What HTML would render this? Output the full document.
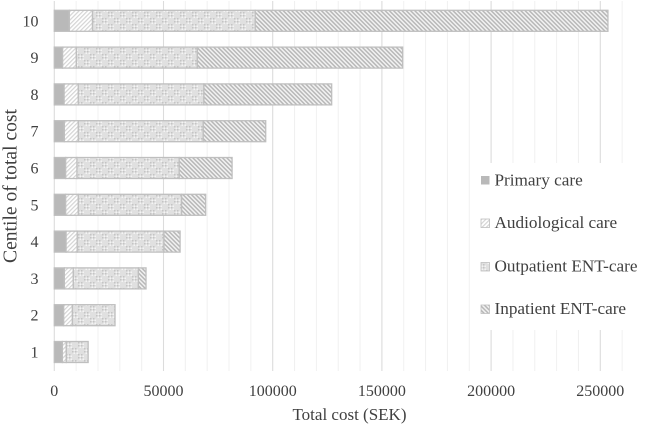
<!DOCTYPE html>
<html>
<head>
<meta charset="utf-8">
<title>Total cost by centile</title>
<style>
html,body{margin:0;padding:0;background:#fff;width:645px;height:424px;overflow:hidden}
svg{display:block}
text{font-family:"Liberation Serif",serif;fill:#404040;font-size:16px}
</style>
</head>
<body>
<svg id="chart" width="645" height="424" viewBox="0 0 645 424" xmlns="http://www.w3.org/2000/svg">
<defs>
<pattern id="p-aud" width="3" height="3" patternUnits="userSpaceOnUse" patternTransform="rotate(45)">
<rect width="3" height="3" fill="#ffffff"/><rect width="1.2" height="3" fill="#d4d4d4"/>
</pattern>
<pattern id="p-out" width="12" height="12" patternUnits="userSpaceOnUse">
<rect width="12" height="12" fill="#e0e0e0"/>
<rect x="0" y="0" width="1.5" height="1.5" fill="#c4c4c4"/><rect x="3" y="0" width="1.5" height="1.5" fill="#c4c4c4"/>
<rect x="1.5" y="1.5" width="1.5" height="1.5" fill="#f4f4f4"/><rect x="4.5" y="1.5" width="1.5" height="1.5" fill="#f4f4f4"/>
<rect x="0" y="3" width="1.5" height="1.5" fill="#c4c4c4"/><rect x="3" y="3" width="1.5" height="1.5" fill="#c4c4c4"/>
<rect x="1.5" y="4.5" width="1.5" height="1.5" fill="#f4f4f4"/><rect x="4.5" y="4.5" width="1.5" height="1.5" fill="#f4f4f4"/>
<rect x="6" y="6" width="1.5" height="1.5" fill="#c4c4c4"/><rect x="9" y="6" width="1.5" height="1.5" fill="#c4c4c4"/>
<rect x="7.5" y="7.5" width="1.5" height="1.5" fill="#f4f4f4"/><rect x="10.5" y="7.5" width="1.5" height="1.5" fill="#f4f4f4"/>
<rect x="6" y="9" width="1.5" height="1.5" fill="#c4c4c4"/><rect x="9" y="9" width="1.5" height="1.5" fill="#c4c4c4"/>
<rect x="7.5" y="10.5" width="1.5" height="1.5" fill="#f4f4f4"/><rect x="10.5" y="10.5" width="1.5" height="1.5" fill="#f4f4f4"/>
</pattern>
<pattern id="p-inp" width="3" height="3" patternUnits="userSpaceOnUse" patternTransform="rotate(-45)">
<rect width="3" height="3" fill="#f2f2f2"/><rect width="1.5" height="3" fill="#b8b8b8"/>
</pattern>
</defs>
<g id="grid"></g>
<rect x="471" y="163" width="174" height="167" fill="#ffffff"/>
<g id="bars"></g>
<g id="xticks"></g>
<g id="yticks"></g>
<text x="349.5" y="420" text-anchor="middle" style="font-size:17px">Total cost (SEK)</text>
<text transform="translate(16.5,186) rotate(-90)" text-anchor="middle" style="font-size:19.6px">Centile of total cost</text>
<g>
<g>
<rect x="481" y="176" width="8.5" height="8.5" fill="#b9b9b9"/>
<text x="494.5" y="185.5" style="font-size:17.2px">Primary care</text>
</g>
<g>
<rect x="481" y="219" width="8.5" height="8.5" fill="url(#p-aud)" stroke="#bfbfbf" stroke-width="0.8"/>
<text x="494.5" y="228" style="font-size:17.2px">Audiological care</text>
</g>
<g>
<rect x="481" y="262.5" width="8.5" height="8.5" fill="url(#p-out)" stroke="#bfbfbf" stroke-width="0.8"/>
<text x="494.5" y="271.5" style="font-size:17.2px">Outpatient ENT-care</text>
</g>
<g>
<rect x="481" y="305" width="8.5" height="8.5" fill="url(#p-inp)" stroke="#bfbfbf" stroke-width="0.8"/>
<text x="494.5" y="314" style="font-size:17.2px">Inpatient ENT-care</text>
</g>
</g>
</svg>
<script>
const categories = ["1","2","3","4","5","6","7","8","9","10"];
const primaryCare = [3700,4300,4600,5400,5200,5200,4600,4500,3800,6900];
const audiologicalCare = [1800,4000,4100,5100,5800,5200,6400,6500,6300,10600];
const outpatientCare = [10000,19500,29800,39700,47300,46800,57200,57500,55400,74500];
const inpatientCare = [0,0,3500,7400,11000,24200,28600,58500,94000,161500];
const xTickLabels = [0,50000,100000,150000,200000,250000];
const minorTicks = [10000,20000,30000,40000,60000,70000,80000,90000,110000,120000,130000,140000,160000,170000,180000,190000,210000,220000,230000,240000,260000];

const NS = "http://www.w3.org/2000/svg";
function xScale(v){ return 54.3 + v * 0.002184; }
function yScale(i){ return 352 - i * 36.8; }
const barHeight = 21;

function mk(parent, tag, attrs){
  const el = document.createElementNS(NS, tag);
  for (const k in attrs) el.setAttribute(k, attrs[k]);
  parent.appendChild(el);
  return el;
}

const grid = document.getElementById("grid");
minorTicks.forEach(function(t){
  const l = mk(grid, "line", {x1:xScale(t), x2:xScale(t), y1:1, y2:371, stroke:"#f0f0f0", "stroke-width":1});
  
  
});
xTickLabels.forEach(function(t){
  const l = mk(grid, "line", {x1:xScale(t), x2:xScale(t), y1:1, y2:371, stroke:"#dcdcdc", "stroke-width":1.1});
  
  
});

const xticks = document.getElementById("xticks");
xTickLabels.forEach(function(t){
  const tx = mk(xticks, "text", {x:xScale(t), y:396, "text-anchor":"middle"});
  
  
  tx.textContent = String(t);
});

const yticks = document.getElementById("yticks");
categories.forEach(function(c, i){
  const tx = mk(yticks, "text", {x:38.5, y:yScale(i) + 5.5, "text-anchor":"end"});
  
  
  tx.textContent = c;
});

const bars = document.getElementById("bars");
categories.forEach(function(c, i){
  let cum = 0;
  const y = yScale(i) - barHeight / 2;

  const a = mk(bars, "rect", {x:xScale(cum), y:y, width:xScale(cum + primaryCare[i]) - xScale(cum), height:barHeight, fill:"#b9b9b9", stroke:"#bfbfbf", "stroke-width":1.3});
  
  
  cum += primaryCare[i];

  const b = mk(bars, "rect", {x:xScale(cum), y:y, width:xScale(cum + audiologicalCare[i]) - xScale(cum), height:barHeight, fill:"url(#p-aud)", stroke:"#bfbfbf", "stroke-width":1.3});
  
  
  cum += audiologicalCare[i];

  const d = mk(bars, "rect", {x:xScale(cum), y:y, width:xScale(cum + outpatientCare[i]) - xScale(cum), height:barHeight, fill:"url(#p-out)", stroke:"#bfbfbf", "stroke-width":1.3});
  
  
  cum += outpatientCare[i];

  if (inpatientCare[i] > 0) {
    const e = mk(bars, "rect", {x:xScale(cum), y:y, width:xScale(cum + inpatientCare[i]) - xScale(cum), height:barHeight, fill:"url(#p-inp)", stroke:"#bfbfbf", "stroke-width":1.3});
    
    
  }
});
</script>
</body>
</html>
